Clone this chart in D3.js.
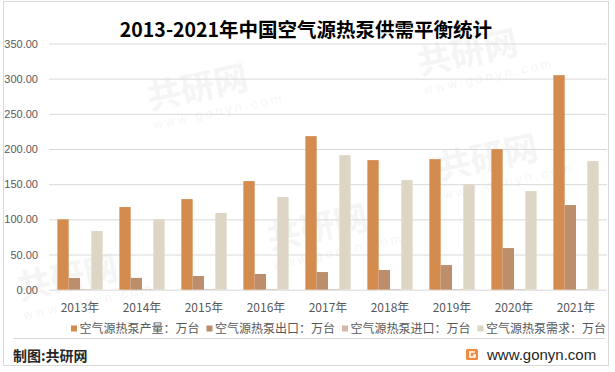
<!DOCTYPE html>
<html>
<head>
<meta charset="utf-8">
<script src="https://cdn.jsdelivr.net/npm/d3@7"></script>
<style>
  body { margin: 0; background: #fff; }
  svg { display: block; font-family: "Noto Sans CJK SC", "Liberation Sans", sans-serif; }
</style>
</head>
<body>
<svg id="chart" width="615" height="372"></svg>
<script>
let years = ["2013年", "2014年", "2015年", "2016年", "2017年", "2018年", "2019年", "2020年", "2021年"];
let seriesNames = ["空气源热泵产量：万台", "空气源热泵出口：万台", "空气源热泵进口：万台", "空气源热泵需求：万台"];
let production = [100.0, 117.5, 128.8, 154.4, 218.3, 184.2, 185.6, 199.9, 305.0];
let exportVals = [16.6, 16.8, 19.5, 22.3, 25.1, 28.0, 35.0, 59.2, 120.3];
let importVals = [0.8, 0.8, 0.8, 0.8, 0.8, 0.8, 0.8, 0.8, 0.8];
let demand = [83.4, 100.0, 109.0, 131.7, 191.3, 155.8, 149.7, 140.2, 182.8];
let yTicks = [0, 50, 100, 150, 200, 250, 300, 350];
let colors = ["#d38b4e", "#bd8e6c", "#d6b7a8", "#ddd6c4"];

let allSeries = [production, exportVals, importVals, demand];
let plotLeft = 49, plotRight = 607, plotTop = 43.5, plotBottom = 289.7;

let svg = d3.select("#chart");

// outer border
svg.append("rect")
	.attr("x", 3.5).attr("y", 1.5)
	.attr("width", 605).attr("height", 364)
	.attr("fill", "none")
	.attr("stroke", "#d9d9d9");

// faint watermarks
let marks = [[150, 110], [420, 75], [270, 250], [440, 180], [20, 300]];
marks.forEach(function(m) {
	let g = svg.append("g")
		.attr("transform", "translate(" + m[0] + "," + m[1] + ") rotate(-12)")
		.attr("fill", "#000")
		.attr("opacity", 0.035);
	g.append("text").attr("x", 0).attr("y", 0)
		.style("font", "bold 34px 'Noto Sans CJK SC'").text("共研网");
	g.append("text").attr("x", 0).attr("y", 20)
		.style("font", "13px 'Liberation Sans'").style("letter-spacing", "3px").text("www.gonyn.com");
});

let x0 = d3.scaleBand()
	.domain(years)
	.range([plotLeft, plotRight])
	.paddingInner(0.27)
	.paddingOuter(0.135);

let x1 = d3.scaleBand()
	.domain(d3.range(seriesNames.length))
	.range([0, x0.bandwidth()]);

let y = d3.scaleLinear()
	.domain([0, 350])
	.range([plotBottom, plotTop]);

// y axis + gridlines
let yAxis = svg.append("g")
	.attr("transform", "translate(" + plotLeft + ",0)")
	.call(d3.axisLeft(y).tickValues(yTicks).tickSize(-(plotRight - plotLeft)).tickPadding(11).tickFormat(d3.format(".2f")));
yAxis.select(".domain").remove();
yAxis.selectAll("line").attr("stroke", "#d9d9d9");
yAxis.selectAll("text")
	.attr("fill", "#595959")
	.style("font", "11px 'Liberation Sans'");

// bars
let groups = svg.append("g")
	.selectAll("g")
	.data(years)
	.enter().append("g")
	.attr("transform", function(d) { return "translate(" + x0(d) + ",0)"; });

groups.selectAll("rect")
	.data(function(d, i) { return allSeries.map(function(s, k) { return { k: k, v: s[i] }; }); })
	.enter().append("rect")
	.attr("x", function(d) { return x1(d.k); })
	.attr("width", x1.bandwidth())
	.attr("y", function(d) { return y(d.v); })
	.attr("height", function(d) { return plotBottom - y(d.v); })
	.attr("fill", function(d) { return colors[d.k]; });

// x axis
let xAxis = svg.append("g")
	.attr("transform", "translate(0," + plotBottom + ")")
	.call(d3.axisBottom(x0).tickSize(0).tickPadding(14));
xAxis.select(".domain").remove();
xAxis.selectAll("text")
	.attr("fill", "#595959")
	.style("font", "12px 'Noto Sans CJK SC'");

// title
svg.append("text")
	.attr("x", 306)
	.attr("y", 37)
	.style("text-anchor", "middle")
	.style("font", "bold 19.5px 'Noto Sans CJK SC'")
	.attr("fill", "#000")
	.text("2013-2021年中国空气源热泵供需平衡统计");

// legend
let legend = svg.append("g")
	.selectAll("g")
	.data(seriesNames)
	.enter().append("g")
	.attr("transform", function(d, i) { return "translate(" + (71 + i * 135.5) + ",325.5)"; });

legend.append("rect")
	.attr("width", 6).attr("height", 6)
	.attr("fill", function(d, i) { return colors[i]; });

legend.append("text")
	.attr("x", 8.5)
	.attr("y", 7.5)
	.attr("fill", "#595959")
	.style("font", "12px 'Noto Sans CJK SC'")
	.text(function(d) { return d; });

// footer
svg.append("line")
	.attr("x1", 13).attr("x2", 605)
	.attr("y1", 338.5).attr("y2", 338.5)
	.attr("stroke", "#d9d9d9");

svg.append("text")
	.attr("x", 13)
	.attr("y", 361)
	.attr("fill", "#262626")
	.style("font", "bold 14px 'Noto Sans CJK SC'")
	.text("制图:共研网");

let logo = svg.append("g").attr("transform", "translate(466,349)");
logo.append("rect")
	.attr("width", 12).attr("height", 11).attr("rx", 1.5)
	.attr("fill", "#f08a3c");
logo.append("path")
	.attr("d", "M9,3 L4,3 L4,8 L9,8 L9,6 L7,6")
	.attr("fill", "none")
	.attr("stroke", "#fff")
	.attr("stroke-width", 1.6);

svg.append("text")
	.attr("x", 487)
	.attr("y", 360)
	.attr("fill", "#262626")
	.style("font", "15px 'Liberation Sans'")
	.text("www.gonyn.com");
</script>
</body>
</html>
